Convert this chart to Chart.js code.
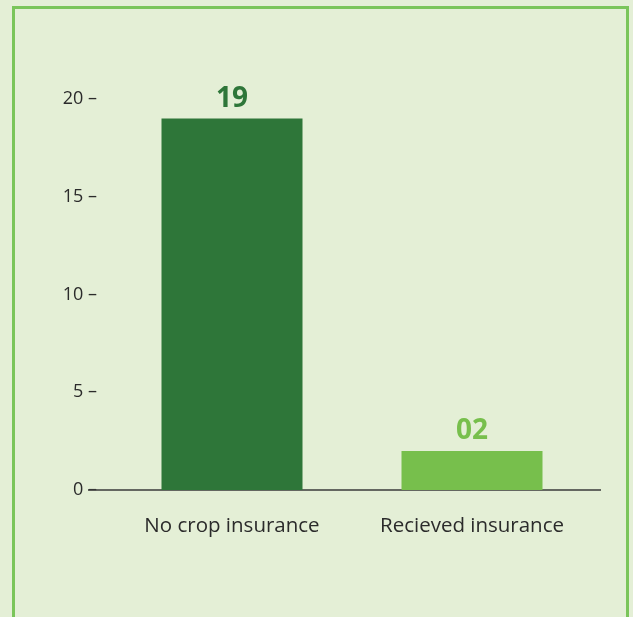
<!DOCTYPE html>
<html>
<head>
<meta charset="utf-8">
<script src="https://cdn.jsdelivr.net/npm/chart.js@4.4.0/dist/chart.umd.min.js"></script>
<style>
    html, body {
        margin: 0;
        padding: 0;
        background: #e4efd6;
        overflow: hidden;
    }
    #frame {
        position: absolute;
        left: 12px;
        top: 6px;
        width: 611px;
        height: 700px;
        border: 3px solid #7ac55a;
    }
    #wrap {
        position: absolute;
        left: 0;
        top: 0;
        width: 633px;
        height: 617px;
    }
</style>
</head>
<body>
<div id="frame"></div>
<div id="wrap"><canvas id="canvas"></canvas></div>
<script>
var categories = ["No crop insurance", "Recieved insurance"];
var counts = [19, 2];
var countLabels = ["19", "02"];
var barColors = ["#2e7639", "#77bf4c"];
var yTicks = [0, 5, 10, 15, 20];

var textColor = "#2b2b2b";
var fontFamily = "'Open Sans', sans-serif";

// value labels above bars
var valueLabels = {
    id: 'valueLabels',
    afterDatasetsDraw: function(chart) {
        var ctx = chart.ctx;
        var meta = chart.getDatasetMeta(0);
        ctx.save();
        ctx.font = "bold 28px " + fontFamily;
        ctx.textAlign = "center";
        ctx.textBaseline = "alphabetic";
        meta.data.forEach(function(bar, i) {
            ctx.fillStyle = barColors[i];
            ctx.fillText(countLabels[i], bar.x, bar.y - 12);
        });
        ctx.restore();
    }
};

// x axis line runs a bit past the plot area
var baseLine = {
    id: 'baseLine',
    beforeDatasetsDraw: function(chart) {
        var ctx = chart.ctx;
        var a = chart.chartArea;
        var y = chart.scales.y.getPixelForValue(0);
        ctx.save();
        ctx.strokeStyle = "#3a3a3a";
        ctx.lineWidth = 1.5;
        ctx.beginPath();
        ctx.moveTo(a.left - 24, y);
        ctx.lineTo(a.right + 9, y);
        ctx.stroke();
        ctx.restore();
    }
};

var ctx = document.getElementById("canvas").getContext("2d");
new Chart(ctx, {
    type: 'bar',
    data: {
        labels: categories,
        datasets: [{
            data: counts,
            backgroundColor: barColors,
            borderWidth: 0,
            categoryPercentage: 1,
            barPercentage: 0.5875
        }]
    },
    options: {
        responsive: true,
        maintainAspectRatio: false,
        animation: false,
        layout: {
            padding: {top: 99, right: 41, left: 0, bottom: 0}
        },
        plugins: {
            legend: {display: false},
            tooltip: {enabled: false}
        },
        scales: {
            x: {
                grid: {display: false},
                border: {display: false},
                ticks: {
                    color: textColor,
                    font: {family: fontFamily, size: 20.5},
                    padding: 16,
                    maxRotation: 0
                },
                afterFit: function(scale) { scale.height = 127; }
            },
            y: {
                min: 0,
                max: 20,
                grid: {display: false},
                border: {display: false},
                afterBuildTicks: function(scale) {
                    scale.ticks = yTicks.map(function(v) { return {value: v}; });
                },
                ticks: {
                    color: textColor,
                    font: {family: fontFamily, size: 18},
                    padding: 7,
                    callback: function(v) { return v + " \u2013"; }
                },
                afterFit: function(scale) { scale.width = 112; }
            }
        }
    },
    plugins: [baseLine, valueLabels]
});
</script>
</body>
</html>
